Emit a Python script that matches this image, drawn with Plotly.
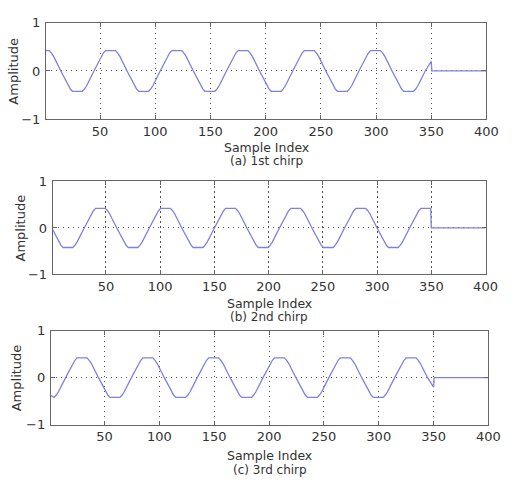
import plotly.graph_objects as go

W, H = 519, 485

# ---- data ----
chirp1_x = [1, 4, 6, 8, 14.5,
            21, 23, 25, 34, 36, 38, 44.5,
            51, 53, 55, 64, 66, 68, 74.5,
            81, 83, 85, 94, 96, 98, 104.5,
            111, 113, 115, 124, 126, 128, 134.5,
            141, 143, 145, 154, 156, 158, 164.5,
            171, 173, 175, 184, 186, 188, 194.5,
            201, 203, 205, 214, 216, 218, 224.5,
            231, 233, 235, 244, 246, 248, 254.5,
            261, 263, 265, 274, 276, 278, 284.5,
            291, 293, 295, 304, 306, 308, 314.5,
            321, 323, 325, 334, 336, 338, 344.5,
            350, 350.5, 400]
chirp1_y = [0.42, 0.42, 0.37, 0.30, 0,
            -0.30, -0.37, -0.42, -0.42, -0.37, -0.30, 0,
            0.30, 0.37, 0.42, 0.42, 0.37, 0.30, 0,
            -0.30, -0.37, -0.42, -0.42, -0.37, -0.30, 0,
            0.30, 0.37, 0.42, 0.42, 0.37, 0.30, 0,
            -0.30, -0.37, -0.42, -0.42, -0.37, -0.30, 0,
            0.30, 0.37, 0.42, 0.42, 0.37, 0.30, 0,
            -0.30, -0.37, -0.42, -0.42, -0.37, -0.30, 0,
            0.30, 0.37, 0.42, 0.42, 0.37, 0.30, 0,
            -0.30, -0.37, -0.42, -0.42, -0.37, -0.30, 0,
            0.30, 0.37, 0.42, 0.42, 0.37, 0.30, 0,
            -0.30, -0.37, -0.42, -0.42, -0.37, -0.30, 0,
            0.20, 0, 0]

chirp2_x = [1,
            6.5, 8.5, 10.5, 19.5, 21.5, 23.5, 30,
            36.5, 38.5, 40.5, 49.5, 51.5, 53.5, 60,
            66.5, 68.5, 70.5, 79.5, 81.5, 83.5, 90,
            96.5, 98.5, 100.5, 109.5, 111.5, 113.5, 120,
            126.5, 128.5, 130.5, 139.5, 141.5, 143.5, 150,
            156.5, 158.5, 160.5, 169.5, 171.5, 173.5, 180,
            186.5, 188.5, 190.5, 199.5, 201.5, 203.5, 210,
            216.5, 218.5, 220.5, 229.5, 231.5, 233.5, 240,
            246.5, 248.5, 250.5, 259.5, 261.5, 263.5, 270,
            276.5, 278.5, 280.5, 289.5, 291.5, 293.5, 300,
            306.5, 308.5, 310.5, 319.5, 321.5, 323.5, 330,
            336.5, 338.5, 340.5, 349.5, 350, 400]
chirp2_y = [-0.04,
            -0.30, -0.37, -0.42, -0.42, -0.37, -0.30, 0,
            0.30, 0.37, 0.42, 0.42, 0.37, 0.30, 0,
            -0.30, -0.37, -0.42, -0.42, -0.37, -0.30, 0,
            0.30, 0.37, 0.42, 0.42, 0.37, 0.30, 0,
            -0.30, -0.37, -0.42, -0.42, -0.37, -0.30, 0,
            0.30, 0.37, 0.42, 0.42, 0.37, 0.30, 0,
            -0.30, -0.37, -0.42, -0.42, -0.37, -0.30, 0,
            0.30, 0.37, 0.42, 0.42, 0.37, 0.30, 0,
            -0.30, -0.37, -0.42, -0.42, -0.37, -0.30, 0,
            0.30, 0.37, 0.42, 0.42, 0.37, 0.30, 0,
            -0.30, -0.37, -0.42, -0.42, -0.37, -0.30, 0,
            0.30, 0.37, 0.42, 0.42, 0, 0]

chirp3_x = [1, 4, 6, 8, 14.5,
            21, 23, 25, 34, 36, 38, 44.5,
            51, 53, 55, 64, 66, 68, 74.5,
            81, 83, 85, 94, 96, 98, 104.5,
            111, 113, 115, 124, 126, 128, 134.5,
            141, 143, 145, 154, 156, 158, 164.5,
            171, 173, 175, 184, 186, 188, 194.5,
            201, 203, 205, 214, 216, 218, 224.5,
            231, 233, 235, 244, 246, 248, 254.5,
            261, 263, 265, 274, 276, 278, 284.5,
            291, 293, 295, 304, 306, 308, 314.5,
            321, 323, 325, 334, 336, 338, 344.5,
            350, 350.5, 400]
chirp3_y = [-0.38, -0.42, -0.37, -0.30, 0,
            0.30, 0.37, 0.42, 0.42, 0.37, 0.30, 0,
            -0.30, -0.37, -0.42, -0.42, -0.37, -0.30, 0,
            0.30, 0.37, 0.42, 0.42, 0.37, 0.30, 0,
            -0.30, -0.37, -0.42, -0.42, -0.37, -0.30, 0,
            0.30, 0.37, 0.42, 0.42, 0.37, 0.30, 0,
            -0.30, -0.37, -0.42, -0.42, -0.37, -0.30, 0,
            0.30, 0.37, 0.42, 0.42, 0.37, 0.30, 0,
            -0.30, -0.37, -0.42, -0.42, -0.37, -0.30, 0,
            0.30, 0.37, 0.42, 0.42, 0.37, 0.30, 0,
            -0.30, -0.37, -0.42, -0.42, -0.37, -0.30, 0,
            0.30, 0.37, 0.42, 0.42, 0.37, 0.30, 0,
            -0.20, 0, 0]

x_ticks = [50, 100, 150, 200, 250, 300, 350, 400]
y_ticks = [-1, 0, 1]
y_tick_text = ["\u22121", "0", "1"]
captions = ["(a) 1st chirp", "(b) 2nd chirp", "(c) 3rd chirp"]
xlabel = "Sample Index"
ylabel = "Amplitude"

series = [(chirp1_x, chirp1_y), (chirp2_x, chirp2_y), (chirp3_x, chirp3_y)]

# ---- layout (pixel boxes: left, right, top, bottom) ----
boxes = [(47, 498, 16, 116), (54, 497, 180, 276), (52, 500, 334, 431)]
xlabel_y = [145, 306, 463]
caption_y = [158.5, 320, 477.5]
ylabel_x = [14, 21, 17]

def px(x):
    return x / W

def py(y):
    return 1 - y / H

FONT = "DejaVu Sans"
TXT = "#333333"
LINE = "#7e82de"
AX = "#666666"

fig = go.Figure()
annotations = []
for i, ((xs, ys), (l, r, t, b)) in enumerate(zip(series, boxes)):
    sx = "" if i == 0 else str(i + 1)
    fig.add_trace(go.Scatter(x=xs, y=ys, mode="lines",
                             line=dict(color=LINE, width=1.3),
                             xaxis="x" + sx, yaxis="y" + sx, showlegend=False,
                             hoverinfo="skip"))
    common = dict(showline=True, mirror="ticks", linecolor=AX, linewidth=1,
                  ticks="inside", ticklen=4, tickcolor=AX, showgrid=True,
                  gridcolor="#555555", griddash="1.5px,3.5px", gridwidth=1,
                  zeroline=False, tickfont=dict(family=FONT, size=13, color=TXT))
    fig.update_layout(**{
        "xaxis" + sx: dict(domain=[px(l), px(r)], range=[1, 400], tickvals=x_ticks,
                           anchor="y" + sx, ticklabelstandoff=0, **common),
        "yaxis" + sx: dict(domain=[py(b), py(t)], range=[-1, 1], tickvals=y_ticks,
                           ticktext=y_tick_text, anchor="x" + sx,
                           ticklabelstandoff=2, **common),
    })
    cx = (l + r) / 2
    annotations.append(dict(x=px(cx), y=py(xlabel_y[i]), xref="paper", yref="paper",
                            text=xlabel, showarrow=False, xanchor="center",
                            yanchor="middle",
                            font=dict(family=FONT, size=12.5, color=TXT)))
    annotations.append(dict(x=px(cx), y=py(caption_y[i]), xref="paper", yref="paper",
                            text=captions[i], showarrow=False, xanchor="center",
                            yanchor="middle",
                            font=dict(family=FONT, size=12, color=TXT)))
    annotations.append(dict(x=px(ylabel_x[i]), y=py((t + b) / 2), xref="paper",
                            yref="paper", text=ylabel, showarrow=False, textangle=-90,
                            xanchor="center", yanchor="middle",
                            font=dict(family=FONT, size=13, color=TXT)))

fig.update_layout(width=W, height=H, margin=dict(l=0, r=0, t=0, b=0),
                  paper_bgcolor="white", plot_bgcolor="white",
                  annotations=annotations)

fig.write_html("out.html")
